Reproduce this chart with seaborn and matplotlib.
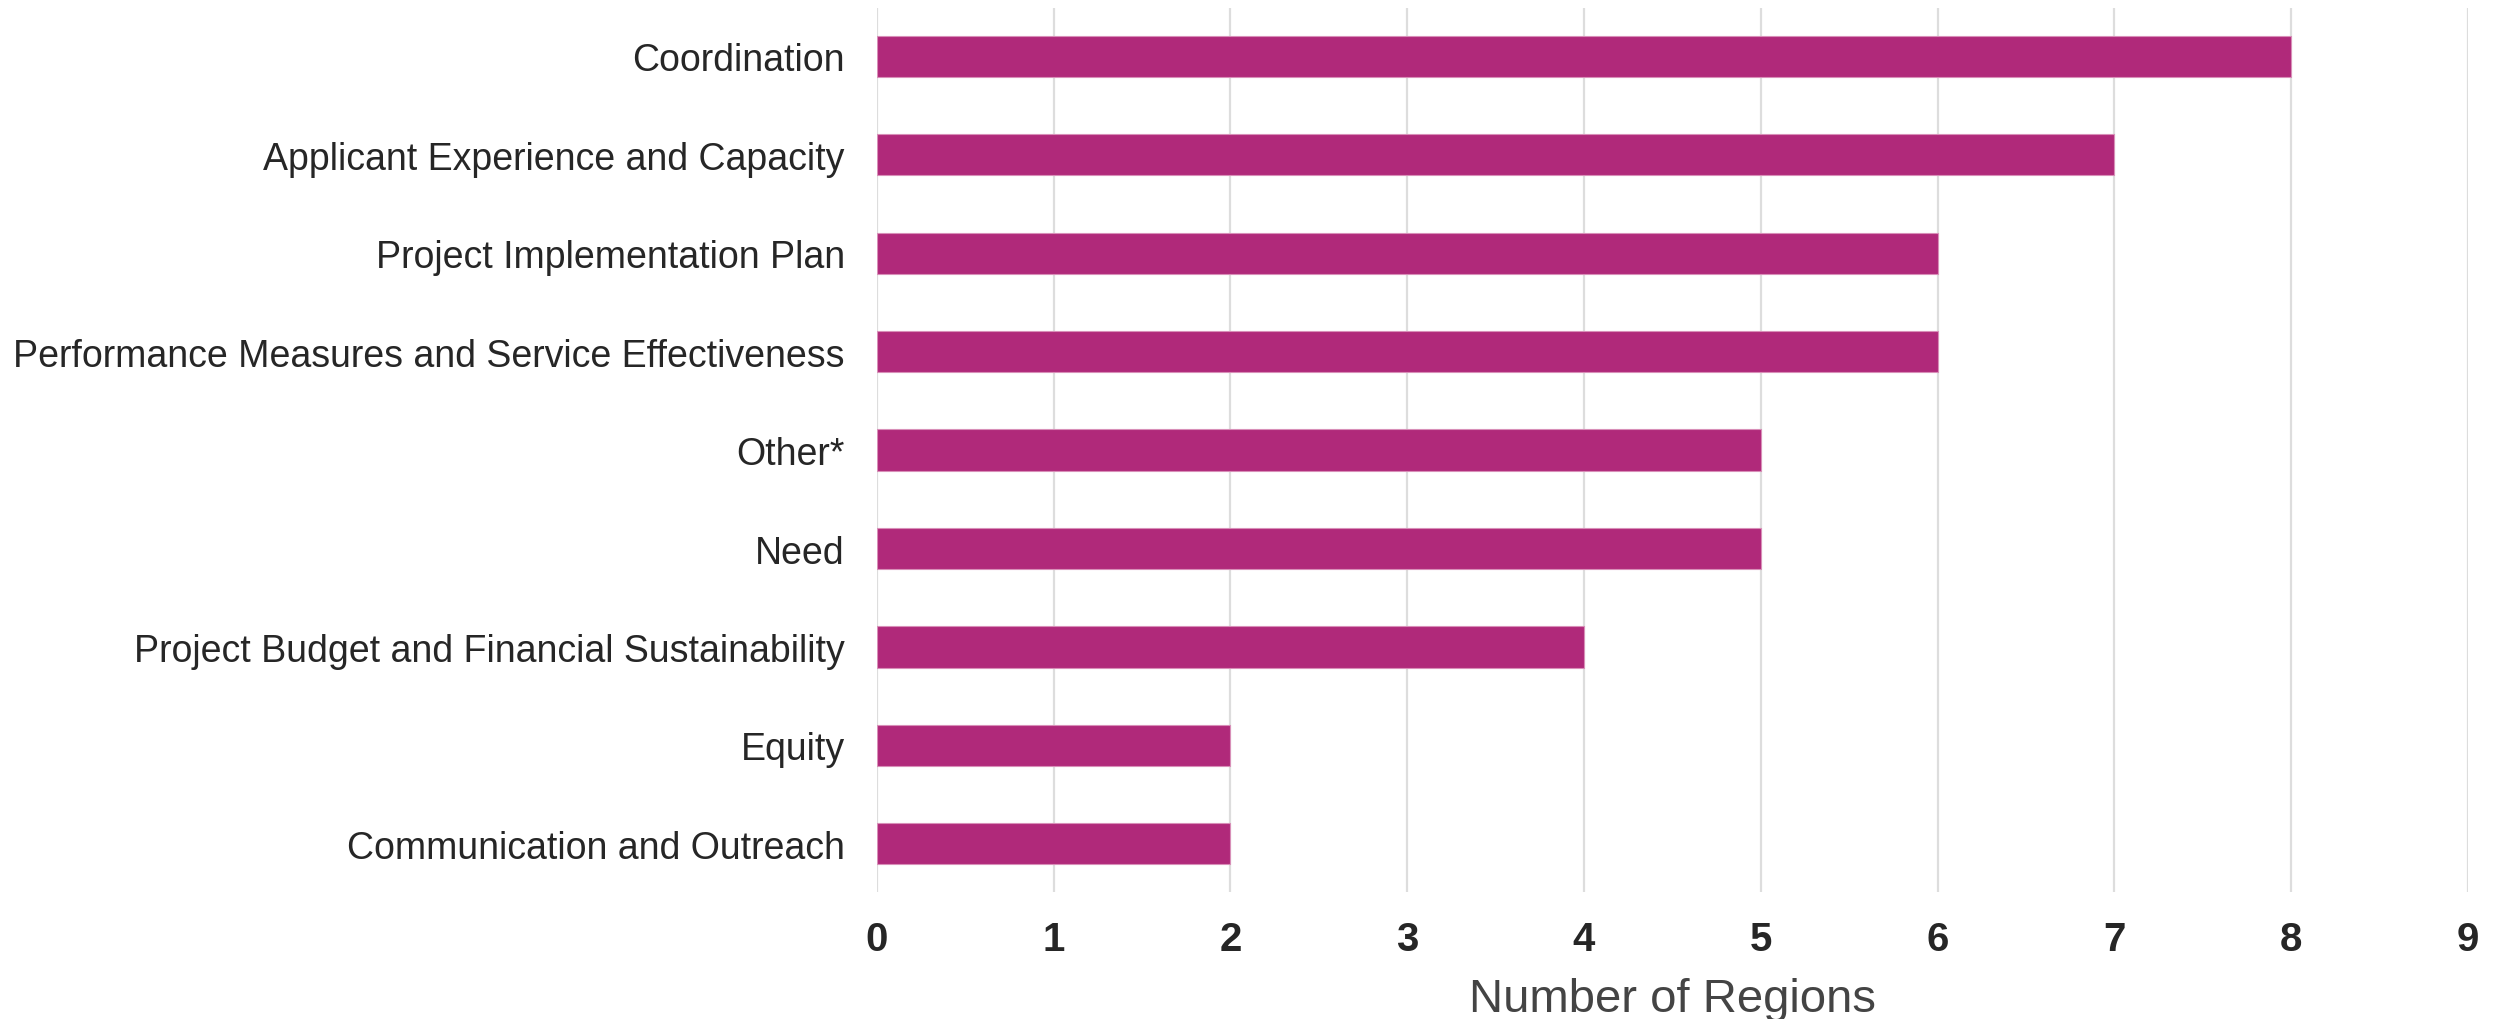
import seaborn as sns
import pandas as pd
import matplotlib.pyplot as plt

categories = ['Coordination', 'Applicant Experience and Capacity',
              'Project Implementation Plan',
              'Performance Measures and Service Effectiveness',
              'Other*', 'Need', 'Project Budget and Financial Sustainability',
              'Equity', 'Communication and Outreach']
regions = [8, 7, 6, 6, 5, 5, 4, 2, 2]

sns.set_theme(style='whitegrid')
plt.rcParams['font.family'] = ['Liberation Sans', 'DejaVu Sans']

df = pd.DataFrame({'category': categories, 'regions': regions})

fig = plt.figure(figsize=(12.49, 5.1), dpi=200)
ax = fig.add_axes([0.351, 0.1245, 0.637, 0.8665])
sns.barplot(data=df, x='regions', y='category', color='#B0297A', saturation=1,
            width=0.42, edgecolor='#d88fb8', linewidth=0.4, ax=ax)

ax.set_xlim(0, 9)
ax.set_ylim(8.49, -0.49)
ax.set_xticks(range(10))
ax.grid(axis='y', visible=False)
ax.grid(axis='x', color='#dddddd', linewidth=0.8)
sns.despine(ax=ax, left=True, bottom=True)
ax.tick_params(axis='x', length=0, pad=10, labelsize=14.5, labelcolor='#262626')
ax.tick_params(axis='y', length=0, pad=11.5, labelsize=13.5, labelcolor='#262626')
for t in ax.get_xticklabels():
    t.set_fontweight('bold')
ax.set_ylabel('')
ax.set_xlabel('Number of Regions', fontsize=17, color='#444444', labelpad=7)

fig.savefig('out.png', dpi=200)
